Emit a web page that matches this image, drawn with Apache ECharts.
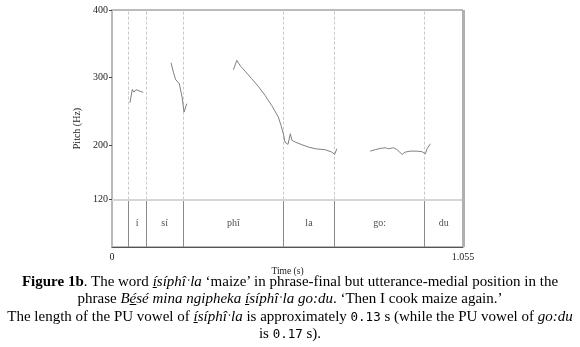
<!DOCTYPE html>
<html><head><meta charset="utf-8">
<script src="https://cdn.jsdelivr.net/npm/echarts@6/dist/echarts.min.js"></script>
<style>
html,body{margin:0;padding:0;background:#fff;}
#chart{position:absolute;left:0;top:0;width:580px;height:347px;}
#cap{position:absolute;left:0;top:273px;width:580px;text-align:center;font-family:"Liberation Serif","Times New Roman",serif;font-size:15px;line-height:17.4px;color:#000;white-space:nowrap;}
.num{font-family:"DejaVu Sans Mono",monospace;font-size:12.5px;}
</style></head>
<body>
<div id="chart"></div>
<div id="cap"><b>Figure 1b</b>. The word <i><u>í</u>síphîˑla</i> ‘maize’ in phrase-final but utterance-medial position in the<br>phrase <i>B<u>é</u>sé mina ngipheka <u>í</u>síphîˑla go:du</i>. ‘Then I cook maize again.’<br>The length of the PU vowel of <i><u>í</u>síphîˑla</i> is approximately <span class="num">0.13</span> s (while the PU vowel of <i>go:du</i><br>is <span class="num">0.17</span> s).</div>
<script>
// Data
const xMin = 0, xMax = 1.055;
const yMin = 50, yMax = 400;
const yTicks = [120, 200, 300, 400];
const xTicks = [0, 1.055];
const tierLine = 120;
const boundaries = [0.049, 0.102, 0.2145, 0.515, 0.669, 0.9395];
const tierStarts = [0.049, 0.102, 0.2145, 0.515, 0.669, 0.9395];
const tierEnds   = [0.102, 0.2145, 0.515, 0.669, 0.9395, 1.055];
const tierTexts  = ['í', 'sí', 'phî', 'la', 'go:', 'du'];
const tierTextY = 85;
// pitch contour (null separates voiced stretches)
const pitchTime = [0.054,0.061,0.066,0.072,0.094,null,
  0.1775,0.1844,0.1916,0.2025,0.2106,0.2166,0.2247,null,
  0.365,0.375,0.381,0.387,0.400,0.420,0.440,0.460,0.480,0.500,0.508,0.515,0.520,0.529,0.536,0.541,0.551,0.571,0.591,0.596,0.611,0.641,0.661,0.669,0.676,null,
  0.776,0.791,0.806,0.821,0.831,0.846,0.856,0.872,0.881,0.896,0.917,0.932,0.942,0.947,0.957];
const pitchHz = [263,282.7,278.7,282.3,278.3,null,
  322,308.3,297,291,271.3,249.2,261.6,null,
  311.8,325.6,324.5,316.7,309.7,298.5,287.1,273.9,259.1,241.8,229.5,217.3,204.9,201.5,217.3,207.4,204.9,201,197.5,195.1,195.1,193.6,190.1,186.7,195.1,null,
  191.6,193.6,195.6,196.6,195.1,196.6,194.1,186.7,190.1,191.6,191.6,190.7,187.7,195.1,202.5];

const pitchData = pitchTime.map((t,i)=> t===null ? [null,null] : [t, pitchHz[i]]);
const font = '"Liberation Serif","Times New Roman",serif';

const upperLines = boundaries.map(b => [{coord:[b, tierLine]},{coord:[b, yMax]}]);
const lowerLines = boundaries.map(b => [{coord:[b, yMin]},{coord:[b, tierLine]}]);
const tierData = tierTexts.map((s,i)=>({value:[(tierStarts[i]+tierEnds[i])/2, tierTextY], name:s}));

const chart = echarts.init(document.getElementById('chart'), null, {renderer:'canvas'});
chart.setOption({
  animation:false,
  grid:{left:112, top:10, right:117, bottom:100, show:true, borderColor:'#777', borderWidth:1, backgroundColor:'transparent'},
  xAxis:{type:'value', min:xMin, max:xMax, name:'Time (s)', nameLocation:'middle', nameGap:11,
    nameTextStyle:{fontFamily:font, fontSize:9.5, color:'#222'},
    axisLine:{show:true, lineStyle:{color:'#555', width:1}}, axisTick:{show:false},
    splitLine:{show:false},
    axisLabel:{customValues:xTicks, fontFamily:font, fontSize:10, color:'#222', margin:5,
      formatter:v=> v===0 ? '0' : v.toFixed(3)}},
  yAxis:{type:'value', min:yMin, max:yMax, name:'Pitch (Hz)', nameLocation:'middle', nameGap:29,
    nameTextStyle:{fontFamily:font, fontSize:10, color:'#222'},
    axisLine:{show:true, lineStyle:{color:'#bbb', width:2}},
    axisTick:{show:true, customValues:yTicks, length:3, lineStyle:{color:'#444'}},
    splitLine:{show:false},
    axisLabel:{customValues:yTicks, fontFamily:font, fontSize:10, color:'#222', margin:4}},
  series:[
    {type:'line', data:pitchData, showSymbol:false, connectNulls:false,
     lineStyle:{color:'#808080', width:1}, z:5,
     markLine:{symbol:'none', silent:true, label:{show:false},
       data:[
         ...upperLines.map(d=>[{...d[0], lineStyle:{color:'#c8c8c8', type:[3,2], width:1}}, d[1]]),
         ...lowerLines.map(d=>[{...d[0], lineStyle:{color:'#8a8a8a', type:'solid', width:1}}, d[1]]),
         [{coord:[xMin, tierLine], lineStyle:{color:'#d6d6d6', type:'solid', width:2}},{coord:[xMax, tierLine]}],
         [{coord:[xMax, yMin], lineStyle:{color:'#b0b0b0', type:'solid', width:3}},{coord:[xMax, yMax]}]
       ]}},
    {type:'scatter', data:tierData, symbolSize:0, silent:true,
     label:{show:true, position:'inside', formatter:p=>p.name, fontFamily:font, fontSize:10, color:'#222'}}
  ]
});
</script>
</body></html>
